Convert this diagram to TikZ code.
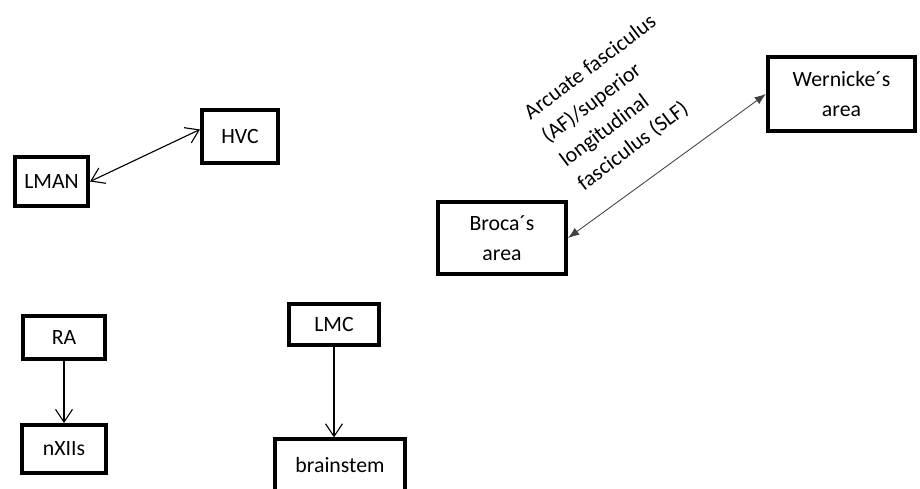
\documentclass[tikz,border=0pt]{standalone}
\usepackage{fontspec}
\setmainfont{Carlito}
\usetikzlibrary{arrows.meta}

\begin{document}
\begin{tikzpicture}[x=0.025cm,y=-0.025cm]
\tikzset{boite/.style={draw, line width=2.8pt, align=center, font=\fontsize{15.5}{21}\selectfont}}
\tikzset{fleche/.style={line width=0.8pt, {Straight Barb[length=9pt,width=12pt]}-{Straight Barb[length=9pt,width=12pt]}}}
\useasboundingbox (0,0) rectangle (920,488);
% oiseau
\node[boite, minimum width=1.9cm, minimum height=1.33cm] (HVC) at (240,136.5) {HVC};
\node[boite, minimum width=1.83cm, minimum height=1.23cm] (LMAN) at (51.5,181.5) {LMAN};
\node[boite, minimum width=2.03cm, minimum height=1.08cm] (RA) at (64,337.5) {RA};
\node[boite, minimum width=2.08cm, minimum height=1.2cm] (nXIIs) at (64,449) {nXIIs};
\node[boite, minimum width=2.25cm, minimum height=1.03cm] (LMC) at (334,324.5) {LMC};
\node[boite, minimum width=3.25cm, minimum height=1.28cm] (brainstem) at (340,465) {brainstem};
% humain
\node[boite, minimum width=3.2cm, minimum height=1.8cm] (Broca) at (502,238) {Broca´s\\area};
\node[boite, minimum width=3.68cm, minimum height=1.85cm] (Wernicke) at (841.5,94) {Wernicke´s\\area};
\node[rotate=37, anchor=west, align=left, inner sep=0pt, font=\fontsize{15.5}{21}\selectfont] (AF) at (553.5,151) {Arcuate fasciculus\\(AF)/superior\\longitudinal\\fasciculus (SLF)};
\draw[fleche] (LMAN.east) -- (HVC.170);
\draw[line width=0.8pt, -{Straight Barb[length=9pt,width=12pt]}] (RA.south) -- (nXIIs.north);
\draw[line width=0.8pt, -{Straight Barb[length=9pt,width=12pt]}] (LMC.south) -- (LMC.south |- brainstem.north);
\draw[line width=0.6pt, black!75, {Latex[length=8pt,width=6pt]}-{Latex[length=8pt,width=6pt]}] (Broca.east) -- (Wernicke.west);
\end{tikzpicture}
\end{document}
